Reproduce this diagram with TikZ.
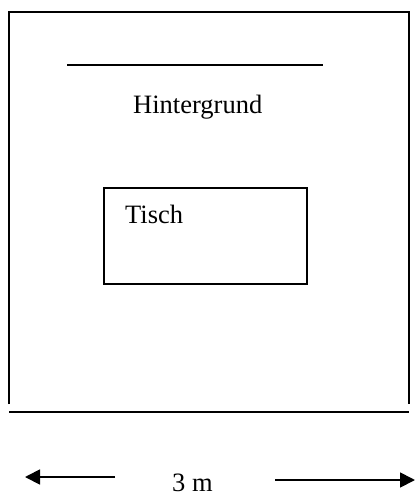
\documentclass[tikz,border=0pt]{standalone}
\usepackage{fontspec}
\setmainfont{Liberation Serif}
\usetikzlibrary{arrows.meta}
\tikzset{
	wall/.style={line width=1.6pt},
	label/.style={font=\fontsize{26.5}{31}\selectfont, anchor=base west, inner sep=0pt},
	dimarrow/.style={line width=1.8pt, -{Triangle[length=15pt,width=15pt]}}
}

\begin{document}
\begin{tikzpicture}[x=1pt, y=-1pt]
		%%%%% START %%%%%
		\useasboundingbox (0, 0) rectangle (415, 496);
		
		% Raum
		\draw[wall] (9, 404) -- (9, 12) -- (409, 12) -- (409, 404);
		\draw[wall] (9, 412) -- (409, 412);
		
		% Hintergrund
		\draw[wall] (67, 65) -- (323, 65);
		\node[label] (hintergrund) at (133, 113) {Hintergrund};
		
		% Tisch
		\draw[wall] (104, 188) rectangle (307, 284);
		\node[label] (tisch) at (125, 223) {Tisch};
		
		% Breite
		\node[label] (breite) at (172, 491) {3 m};
		\coordinate (linksA) at (115, 477);
		\coordinate (linksB) at (25, 477);
		\coordinate (rechtsA) at (275, 480);
		\coordinate (rechtsB) at (415, 480);
		\draw[dimarrow] (linksA) -- (linksB);
		\draw[dimarrow] (rechtsA) -- (rechtsB);
		
		%%%%% END %%%%%
	\end{tikzpicture}
\end{document}
